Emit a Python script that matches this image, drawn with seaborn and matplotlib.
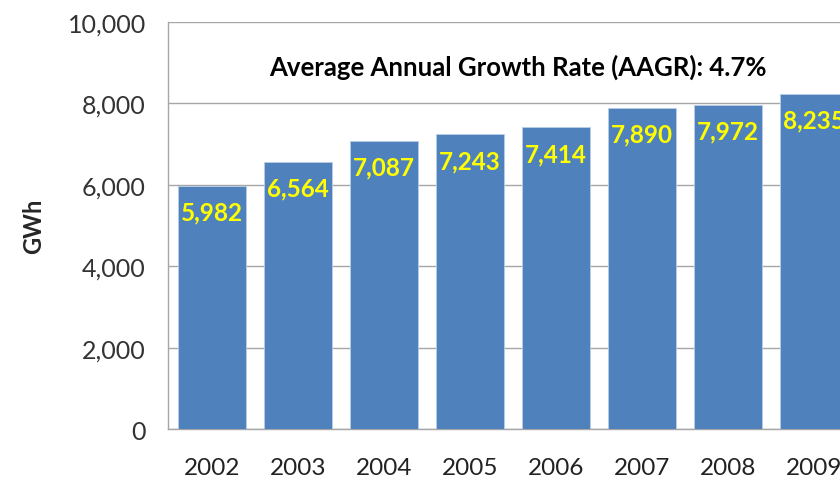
import matplotlib
matplotlib.use("Agg")
import matplotlib.pyplot as plt
import matplotlib.ticker as mticker
import seaborn as sns
import pandas as pd

# Annual electricity consumption (GWh)
years = ["2002", "2003", "2004", "2005", "2006", "2007", "2008", "2009"]
gwh = [5982, 6564, 7087, 7243, 7414, 7890, 7972, 8235]
y_ticks = [0, 2000, 4000, 6000, 8000, 10000]
note_text = "Average Annual Growth Rate (AAGR): 4.7%"

df = pd.DataFrame({"year": years, "gwh": gwh})

sns.set_style("white")
plt.rcParams["font.family"] = ["Lato", "DejaVu Sans"]

fig = plt.figure(figsize=(8.4, 4.81), dpi=100)
ax = fig.add_axes([0.2, 0.106, 0.8, 0.846])

sns.barplot(data=df, x="year", y="gwh", color="#4F81BD", saturation=1,
            width=0.79, edgecolor="#B9CDE5", linewidth=0.6, ax=ax, zorder=3)

# value labels inside the top of each bar (the last one runs off the edge, as in the source)
for i, v in enumerate(gwh):
    ax.annotate(f"{v:,}", xy=(i, v), xytext=(0, -19), textcoords="offset points",
                ha="center", va="center", color="#FFFF00", fontsize=17.5,
                fontweight="bold", zorder=4)

ax.text(0.521, 0.892, note_text, transform=ax.transAxes, ha="center", va="center",
        fontsize=18.5, fontweight="bold", color="black")

ax.set_ylim(0, 10000)
ax.set_xlim(-0.51, 7.30)
ax.set_yticks(y_ticks)
ax.yaxis.set_major_formatter(mticker.FuncFormatter(lambda v, p: f"{int(v):,}"))
ax.grid(axis="y", color="#A6A6A6", linewidth=1.0, zorder=0)
ax.set_axisbelow(True)

for side in ["top", "right"]:
    ax.spines[side].set_visible(False)
ax.spines["left"].set_color("#A6A6A6")
ax.spines["bottom"].set_color("#A6A6A6")
ax.spines["left"].set_linewidth(1.0)
ax.spines["bottom"].set_linewidth(1.0)

ax.tick_params(axis="y", length=0, pad=16, labelsize=18, labelcolor="#333333")
ax.tick_params(axis="x", length=0, pad=20, labelsize=17.5, labelcolor="#222222")
ax.set_xlabel("")
ax.set_ylabel("GWh", fontsize=17, fontweight="bold", labelpad=16)

fig.savefig("out.png", dpi=100)
